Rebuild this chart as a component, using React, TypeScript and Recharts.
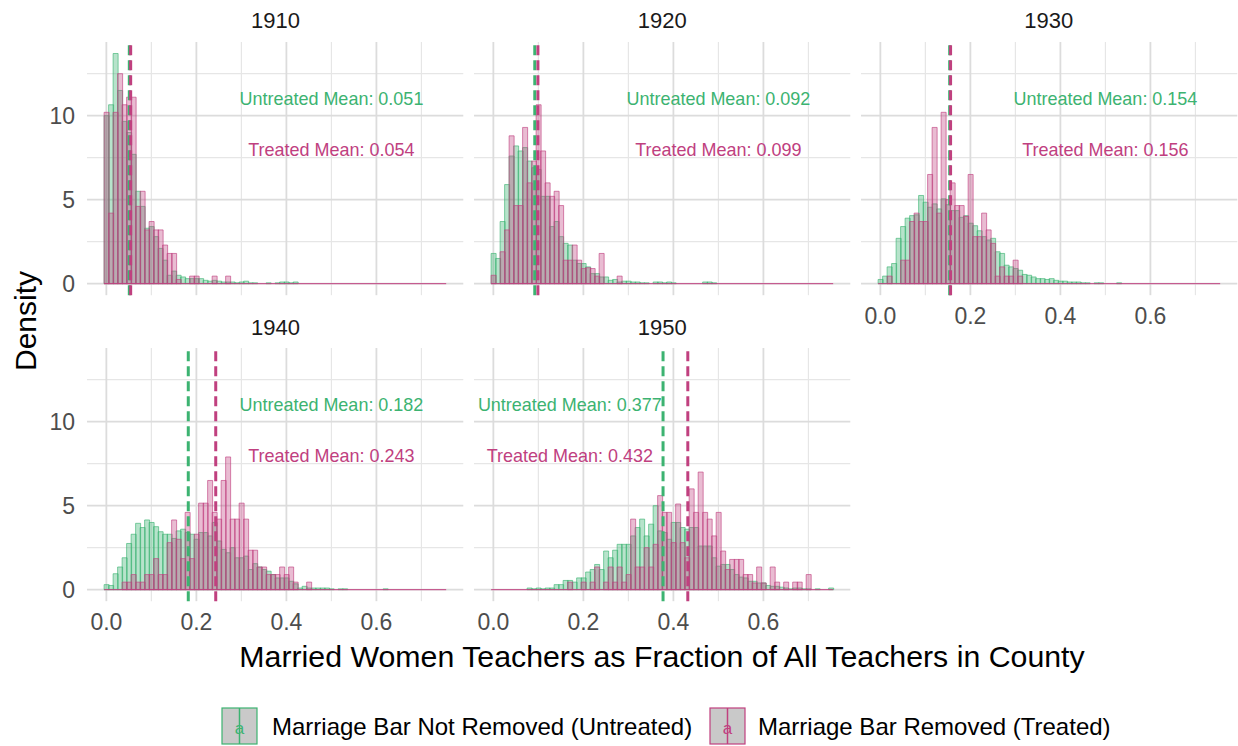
import {
  ComposedChart,
  Bar,
  XAxis,
  YAxis,
  CartesianGrid,
  ReferenceLine,
  ReferenceDot
} from 'recharts'

const GREEN = '#3cb371'
const PINK = '#c0407f'
const FONT = '"Liberation Sans", Arial, Helvetica, sans-serif'

// histogram bins: width 0.01, centred on 0.00 ... 0.75
const BIN_WIDTH = 0.01
const BIN_CENTERS = Array.from({ length: 76 }, (_, i) => i / 100)

const YEARS = ['1910', '1920', '1930', '1940', '1950']
const UNTREATED_MEANS = [0.051, 0.092, 0.154, 0.182, 0.377]
const TREATED_MEANS = [0.054, 0.099, 0.156, 0.243, 0.432]
const LABEL_X = [0.5, 0.5, 0.5, 0.5, 0.17]
const LABEL_Y_UNTREATED = 11
const LABEL_Y_TREATED = 8

const X_TICKS = [0, 0.2, 0.4, 0.6]
const X_MINOR = [0.1, 0.3, 0.5, 0.7]
const Y_TICKS = [0, 5, 10]
const Y_MINOR = [2.5, 7.5, 12.5]

// densities per bin (marriage bar not removed / removed)
const untreated1910 = [
  10.0, 10.65, 13.7, 11.5, 9.66, 9.0, 7.7, 5.5, 4.6, 3.3,
  3.4, 2.8, 2.1, 1.4, 0.5, 0.75, 0.5, 0.4, 0.3, 0.3,
  0.3, 0.3, 0.2, 0.15, 0.2, 0.15, 0.1, 0.1, 0.1, 0.05,
  0.1, 0.15, 0.05, 0.05, 0, 0, 0.05, 0, 0.05, 0.1,
  0.1, 0.05, 0.1, 0, 0, 0, 0, 0, 0, 0,
  0, 0, 0, 0, 0, 0, 0, 0, 0, 0,
  0, 0, 0, 0, 0, 0, 0, 0, 0, 0,
  0, 0, 0, 0, 0, 0
]
const treated1910 = [
  10.2, 4.2, 10.2, 12.5, 10.65, 11.1, 11.1, 4.6, 5.5, 3.2,
  3.7, 3.2, 3.2, 2.3, 1.8, 1.8, 0.25, 0, 0, 0.45,
  0.45, 0, 0, 0, 0.45, 0, 0, 0.45, 0, 0,
  0, 0, 0, 0, 0, 0, 0, 0, 0, 0,
  0, 0, 0, 0, 0, 0, 0, 0, 0, 0,
  0, 0, 0, 0, 0, 0, 0, 0, 0, 0,
  0, 0, 0, 0, 0, 0, 0, 0, 0, 0,
  0, 0, 0, 0, 0, 0
]
const untreated1920 = [
  1.8, 1.5, 3.7, 5.9, 7.6, 8.2, 7.9, 8.1, 7.3, 6.9,
  6.8, 5.2, 5.2, 3.4, 3.7, 2.8, 2.4, 2.3, 1.4, 1.2,
  1.2, 1.0, 0.6, 0.6, 0.4, 0.4, 0.2, 0.25, 0.1, 0.15,
  0.15, 0.1, 0.1, 0.05, 0.05, 0, 0.1, 0.1, 0.05, 0.1,
  0.05, 0, 0, 0, 0, 0, 0, 0.1, 0.1, 0.05,
  0, 0, 0, 0, 0, 0, 0, 0, 0, 0,
  0, 0, 0, 0, 0, 0, 0, 0, 0, 0,
  0, 0, 0, 0, 0, 0
]
const treated1920 = [
  0.5, 0, 1.9, 3.2, 8.8, 4.65, 4.65, 9.3, 6.0, 7.3,
  10.65, 7.9, 6.0, 5.2, 5.5, 4.65, 1.4, 1.4, 2.3, 1.4,
  0.9, 0.95, 0.9, 0.45, 1.8, 0, 0, 0, 0.45, 0,
  0, 0, 0, 0, 0, 0, 0, 0, 0, 0,
  0, 0, 0, 0, 0, 0, 0, 0, 0, 0,
  0, 0, 0, 0, 0, 0, 0, 0, 0, 0,
  0, 0, 0, 0, 0, 0, 0, 0, 0, 0,
  0, 0, 0, 0, 0, 0
]
const untreated1930 = [
  0.25, 0.45, 1.0, 1.2, 2.7, 3.4, 3.9, 4.05, 4.1, 5.25,
  4.85, 4.55, 4.75, 4.45, 5.05, 4.7, 4.35, 4.35, 3.95, 4.05,
  3.6, 3.45, 3.15, 2.8, 2.6, 2.7, 1.9, 1.8, 1.1, 1.0,
  0.9, 0.8, 0.55, 0.5, 0.4, 0.3, 0.3, 0.25, 0.3, 0.2,
  0.15, 0.15, 0.1, 0.1, 0.1, 0.05, 0.05, 0, 0.05, 0.05,
  0, 0, 0, 0.05, 0, 0, 0, 0, 0, 0,
  0, 0, 0, 0, 0, 0, 0, 0, 0, 0,
  0, 0, 0, 0, 0, 0
]
const treated1930 = [
  0, 0, 0.45, 0, 0, 1.4, 1.4, 3.7, 4.2, 3.7,
  3.7, 6.5, 9.3, 4.2, 10.2, 5.0, 6.0, 4.65, 4.65, 4.0,
  6.5, 2.8, 2.8, 4.2, 3.2, 2.4, 0.45, 1.0, 0.45, 0.45,
  1.4, 0.45, 0, 0, 0, 0, 0, 0, 0, 0,
  0, 0, 0, 0, 0, 0, 0, 0, 0, 0,
  0, 0, 0, 0, 0, 0, 0, 0, 0, 0,
  0, 0, 0, 0, 0, 0, 0, 0, 0, 0,
  0, 0, 0, 0, 0, 0
]
const untreated1940 = [
  0.3, 0.25, 0.95, 1.35, 1.9, 2.75, 3.3, 3.95, 3.7, 4.15,
  4.0, 3.75, 3.45, 3.3, 3.3, 3.05, 3.5, 3.6, 3.4, 3.3,
  3.0, 3.4, 3.4, 3.2, 4.0, 2.9, 2.4, 2.2, 2.5, 1.9,
  1.9, 2.0, 1.2, 1.55, 1.35, 1.2, 1.1, 0.9, 0.7, 0.7,
  0.7, 0.5, 0.35, 0.1, 0.2, 0.1, 0.1, 0.1, 0.1, 0.1,
  0.05, 0, 0.05, 0.05, 0, 0, 0, 0, 0, 0,
  0, 0, 0.05, 0, 0, 0, 0, 0, 0, 0,
  0, 0, 0, 0, 0, 0
]
const treated1940 = [
  0, 0, 0, 0, 0.45, 0.45, 0.9, 0.45, 0.45, 0.9,
  0.9, 1.85, 0.9, 0.9, 2.8, 4.15, 3.0, 1.85, 4.6, 1.85,
  3.3, 5.15, 5.15, 6.5, 4.6, 4.2, 6.5, 7.9, 4.2, 4.2,
  5.15, 4.2, 2.35, 2.35, 1.35, 1.35, 0.9, 0.9, 0.9, 1.35,
  0.9, 1.35, 0.45, 0, 0, 0.45, 0, 0, 0, 0,
  0, 0, 0, 0, 0, 0, 0, 0, 0, 0,
  0, 0, 0, 0, 0, 0, 0, 0, 0, 0,
  0, 0, 0, 0, 0, 0
]
const untreated1950 = [
  0, 0, 0, 0, 0, 0, 0, 0, 0.1, 0.05,
  0.1, 0.05, 0.1, 0.1, 0.3, 0.3, 0.55, 0.55, 0.45, 0.7,
  0.7, 1.05, 1.2, 1.5, 1.2, 2.3, 1.9, 2.35, 2.7, 2.7,
  2.7, 3.2, 3.7, 4.2, 3.2, 3.9, 5.0, 3.5, 3.4, 3.0,
  4.0, 4.0, 3.7, 3.6, 3.7, 3.7, 2.6, 2.6, 2.6, 1.9,
  1.4, 1.5, 1.5, 1.2, 0.9, 0.75, 0.7, 0.5, 0.5, 0.4,
  0.4, 0.25, 0.2, 0.2, 0.15, 0.1, 0.05, 0.1, 0.1, 0.05,
  0.05, 0, 0.05, 0, 0, 0.1
]
const treated1950 = [
  0, 0, 0, 0, 0, 0, 0, 0, 0, 0,
  0, 0, 0, 0, 0, 0, 0, 0.45, 0, 0,
  0.45, 0, 0.45, 1.35, 0, 0.45, 1.35, 0.45, 1.35, 0.45,
  0.9, 4.2, 1.35, 1.35, 2.5, 1.35, 2.7, 5.6, 4.6, 4.6,
  2.8, 5.1, 2.8, 1.9, 6.0, 4.6, 7.0, 4.6, 4.2, 3.2,
  4.6, 2.3, 1.2, 1.8, 1.8, 1.8, 0.9, 0.9, 0.4, 1.35,
  0.4, 0, 1.35, 0.45, 0, 0.45, 0, 0.45, 0.45, 0,
  0.9, 0, 0, 0, 0, 0
]

const UNTREATED = [untreated1910, untreated1920, untreated1930, untreated1940, untreated1950]
const TREATED = [treated1910, treated1920, treated1930, treated1940, treated1950]

// ggplot-like 5% expansion of the data range
const X_LO = BIN_CENTERS[0] - BIN_WIDTH / 2
const X_HI = BIN_CENTERS[BIN_CENTERS.length - 1] + BIN_WIDTH / 2
const X_PAD = (X_HI - X_LO) * 0.05
const X_DOMAIN = [X_LO - X_PAD, X_HI + X_PAD]
const Y_MAX = Math.max(...UNTREATED.flat(), ...TREATED.flat())
const Y_DOMAIN = [-Y_MAX * 0.05, Y_MAX * 1.05]

// panel geometry
const PLOT_W = 376.3
const PLOT_H = 253.2
const COL_LEFT = [87.3, 474, 860.7]
const ROW_TOP = [41.6, 348.3]
const Y_AXIS_W = 55
const X_AXIS_H = 40

const tickStyle = { fontSize: 23, fill: '#4d4d4d' }

function Panel({ idx }: { idx: number }) {
  const col = idx % 3
  const row = Math.floor(idx / 3)
  const showY = col === 0
  const showX = row === 1 || idx === 2
  const w = PLOT_W + (showY ? Y_AXIS_W : 0)
  const h = PLOT_H + (showX ? X_AXIS_H : 0)
  const left = COL_LEFT[col] - (showY ? Y_AXIS_W : 0)
  const top = ROW_TOP[row]
  const uMean = UNTREATED_MEANS[idx]
  const tMean = TREATED_MEANS[idx]

  const data = BIN_CENTERS.map((x, i) => ({
    x,
    u: UNTREATED[idx][i],
    t: TREATED[idx][i]
  }))

  return (
    <div style={{ position: 'absolute', left, top, width: w, height: h }}>
      <ComposedChart
        width={w}
        height={h}
        data={data}
        margin={{ top: 0, right: 0, bottom: 0, left: 0 }}
        barCategoryGap={0}
        barGap={0}
      >
        <CartesianGrid
          horizontalValues={Y_MINOR}
          verticalValues={X_MINOR}
          stroke="#e6e6e6"
          strokeWidth={1.2}
        />
        <CartesianGrid
          horizontalValues={Y_TICKS}
          verticalValues={X_TICKS}
          stroke="#dcdcdc"
          strokeWidth={1.8}
        />
        <XAxis
          type="number"
          dataKey="x"
          domain={X_DOMAIN}
          ticks={X_TICKS}
          interval={0}
          hide={!showX}
          height={X_AXIS_H}
          tickLine={false}
          axisLine={false}
          tickSize={0}
          tickMargin={12}
          tick={tickStyle}
          tickFormatter={(v) => Number(v).toFixed(1)}
        />
        <XAxis xAxisId="t" type="number" dataKey="x" domain={X_DOMAIN} hide />
        <YAxis
          domain={Y_DOMAIN}
          ticks={Y_TICKS}
          interval={0}
          hide={!showY}
          width={Y_AXIS_W}
          tickLine={false}
          axisLine={false}
          tickSize={0}
          tickMargin={12}
          tick={tickStyle}
        />
        <Bar
          dataKey="u"
          fill={GREEN}
          fillOpacity={0.37}
          stroke={GREEN}
          strokeOpacity={0.8}
          strokeWidth={0.8}
          isAnimationActive={false}
        />
        <Bar
          dataKey="t"
          xAxisId="t"
          fill={PINK}
          fillOpacity={0.35}
          stroke={PINK}
          strokeOpacity={0.8}
          strokeWidth={0.8}
          isAnimationActive={false}
        />
        <ReferenceLine
          segment={[{ x: X_LO, y: 0 }, { x: X_HI, y: 0 }]}
          stroke={PINK}
          strokeWidth={1}
        />
        <ReferenceLine x={uMean} stroke={GREEN} strokeWidth={3} strokeDasharray="10 5" />
        <ReferenceLine x={tMean} stroke={PINK} strokeWidth={3} strokeDasharray="10 5" />
        <ReferenceDot
          x={LABEL_X[idx]}
          y={LABEL_Y_UNTREATED}
          r={0}
          fill="none"
          stroke="none"
          label={{ value: `Untreated Mean: ${uMean.toFixed(3)}`, position: 'center', fill: GREEN, fontSize: 18 }}
        />
        <ReferenceDot
          x={LABEL_X[idx]}
          y={LABEL_Y_TREATED}
          r={0}
          fill="none"
          stroke="none"
          label={{ value: `Treated Mean: ${tMean.toFixed(3)}`, position: 'center', fill: PINK, fontSize: 18 }}
        />
      </ComposedChart>
    </div>
  )
}

function LegendKey({ x, color }: { x: number; color: string }) {
  return (
    <g>
      <rect x={x} y={708} width={35} height={36} fill="#c9c9c9" stroke={color} strokeWidth={1.2} />
      <line x1={x + 17.5} x2={x + 17.5} y1={708} y2={744} stroke={color} strokeWidth={1.5} />
      <text x={x + 17.5} y={734} textAnchor="middle" fontSize={17} fill={color}>a</text>
    </g>
  )
}

export default function App() {
  return (
    <div
      style={{
        position: 'absolute',
        left: 0,
        top: 0,
        width: 1238,
        height: 746,
        background: '#ffffff',
        overflow: 'hidden',
        fontFamily: FONT
      }}
    >
      {/* let tick labels at a panel edge spill past the svg box */}
      <style>{'.recharts-surface { overflow: visible; }'}</style>
      <svg
        width={1238}
        height={746}
        style={{ position: 'absolute', left: 0, top: 0, pointerEvents: 'none' }}
        fontFamily={FONT}
      >
        {YEARS.map((year, idx) => (
          <text
            key={year}
            x={COL_LEFT[idx % 3] + PLOT_W / 2}
            y={ROW_TOP[Math.floor(idx / 3)] - 21}
            textAnchor="middle"
            dominantBaseline="central"
            fontSize={22}
            fill="#1a1a1a"
          >
            {year}
          </text>
        ))}
        <text x={662} y={656} textAnchor="middle" dominantBaseline="central" fontSize={30.3} fill="#000">
          Married Women Teachers as Fraction of All Teachers in County
        </text>
        <text
          x={25}
          y={321}
          textAnchor="middle"
          dominantBaseline="central"
          fontSize={30}
          fill="#000"
          transform="rotate(-90 25 321)"
        >
          Density
        </text>
        <LegendKey x={222} color={GREEN} />
        <text x={272} y={726} dominantBaseline="central" fontSize={24} fill="#000">
          Marriage Bar Not Removed (Untreated)
        </text>
        <LegendKey x={710} color={PINK} />
        <text x={758} y={726} dominantBaseline="central" fontSize={24} fill="#000">
          Marriage Bar Removed (Treated)
        </text>
      </svg>
      {YEARS.map((year, idx) => (
        <Panel key={year} idx={idx} />
      ))}
    </div>
  )
}
